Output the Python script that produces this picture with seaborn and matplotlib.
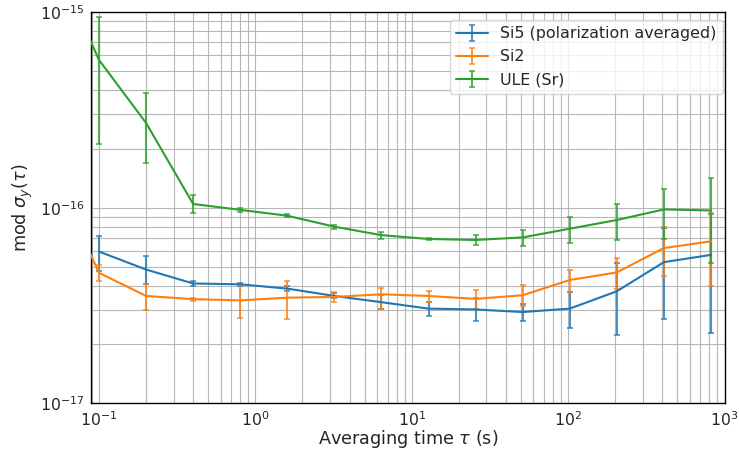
import numpy as np
import matplotlib
matplotlib.use("Agg")
import matplotlib.pyplot as plt
import seaborn as sns

tau = [0.1, 0.2, 0.4, 0.8, 1.6, 3.2, 6.4, 12.8, 25.6, 51.2, 102.4, 204.8, 409.6, 819.2]
tau_ext = [0.05] + tau

si5 = [5.97e-17, 4.83e-17, 4.10e-17, 4.06e-17, 3.86e-17, 3.54e-17, 3.29e-17, 3.05e-17,
       3.02e-17, 2.93e-17, 3.05e-17, 3.74e-17, 5.27e-17, 5.74e-17]
si5_hi = [7.18e-17, 5.68e-17, 4.20e-17, 4.12e-17, 3.97e-17, 3.65e-17, 3.57e-17, 3.30e-17,
          3.47e-17, 3.21e-17, 3.70e-17, 5.23e-17, 7.90e-17, 9.25e-17]
si5_lo = [4.75e-17, 4.07e-17, 3.98e-17, 4.00e-17, 3.76e-17, 3.44e-17, 3.03e-17, 2.79e-17,
          2.65e-17, 2.63e-17, 2.43e-17, 2.23e-17, 2.70e-17, 2.29e-17]

si2 = [1.56e-16, 4.65e-17, 3.54e-17, 3.41e-17, 3.36e-17, 3.47e-17, 3.50e-17, 3.61e-17, 3.54e-17,
       3.42e-17, 3.57e-17, 4.27e-17, 4.67e-17, 6.22e-17, 6.73e-17]
si2_hi = [1.80e-16, 5.07e-17, 4.06e-17, 3.47e-17, 4.05e-17, 4.22e-17, 3.72e-17, 3.87e-17, 3.76e-17,
          3.81e-17, 4.05e-17, 4.79e-17, 5.55e-17, 7.97e-17, 9.42e-17]
si2_lo = [1.30e-16, 4.22e-17, 3.01e-17, 3.35e-17, 2.74e-17, 2.71e-17, 3.30e-17, 3.05e-17, 3.30e-17,
          3.05e-17, 3.15e-17, 3.72e-17, 3.83e-17, 4.48e-17, 3.98e-17]

ule = [1.97e-15, 5.69e-16, 2.71e-16, 1.045e-16, 9.75e-17, 9.10e-17, 8.00e-17, 7.24e-17, 6.92e-17,
       6.84e-17, 7.05e-17, 7.81e-17, 8.65e-17, 9.80e-17, 9.68e-17]
ule_hi = [2.50e-15, 9.42e-16, 3.85e-16, 1.16e-16, 9.95e-17, 9.25e-17, 8.20e-17, 7.55e-17, 7.00e-17,
          7.24e-17, 7.71e-17, 9.00e-17, 1.05e-16, 1.245e-16, 1.41e-16]
ule_lo = [1.40e-15, 2.11e-16, 1.69e-16, 9.35e-17, 9.55e-17, 8.95e-17, 7.80e-17, 6.95e-17, 6.84e-17,
          6.44e-17, 6.40e-17, 6.60e-17, 6.86e-17, 6.90e-17, 5.20e-17]

labels = ["Si5 (polarization averaged)", "Si2", "ULE (Sr)"]

sns.set_style("white")
plt.rcParams["font.family"] = ["DejaVu Sans"]
plt.rcParams["mathtext.fontset"] = "dejavusans"
pal = sns.color_palette("tab10")

W, H = 739, 454
L, R, T, B = 91.3, 724.5, 12, 403.4
fig = plt.figure(figsize=(W / 100, H / 100), dpi=100)
ax = fig.add_axes([L / W, 1 - B / H, (R - L) / W, (B - T) / H])

series = [
    (tau, si5, si5_lo, si5_hi, labels[0], pal[0]),
    (tau_ext, si2, si2_lo, si2_hi, labels[1], pal[1]),
    (tau_ext, ule, ule_lo, ule_hi, labels[2], pal[2]),
]
for x, y, lo, hi, lab, c in series:
    y = np.array(y); lo = np.array(lo); hi = np.array(hi)
    err = [y - lo, hi - y]
    cont = ax.errorbar(x, y, yerr=err, color=c, lw=1.5, elinewidth=1.5,
                       capsize=2.5, capthick=1.2, label=lab, zorder=3)
    for cap in cont[1]:
        cap.set_alpha(0.8)
    for bl in cont[2]:
        bl.set_alpha(0.8)

ax.set_xscale("log")
ax.set_yscale("log")
ax.set_xlim(0.0893, 1000)
ax.set_ylim(1e-17, 1e-15)
ax.grid(True, which="both", color="#b0b0b0", lw=0.8, alpha=0.9)
for s in ax.spines.values():
    s.set_color("black")
    s.set_linewidth(1.0)
ax.tick_params(which="major", direction="out", length=3, width=0.8, pad=2,
               labelsize=11.3, color="black")
ax.tick_params(which="minor", direction="out", length=1.8, width=0.6, color="black")
ax.set_xlabel(r"Averaging time $\tau$ (s)", fontsize=12.7, labelpad=-1)
ax.set_ylabel(r"mod $\sigma_y(\tau)$", fontsize=12.7, labelpad=3)
ax.legend(loc="upper right", fontsize=11.4, framealpha=0.8,
          bbox_to_anchor=(723 / W, 1 - 20 / H),
          bbox_transform=fig.transFigure, borderaxespad=0)
fig.savefig("out.png", dpi=100)
